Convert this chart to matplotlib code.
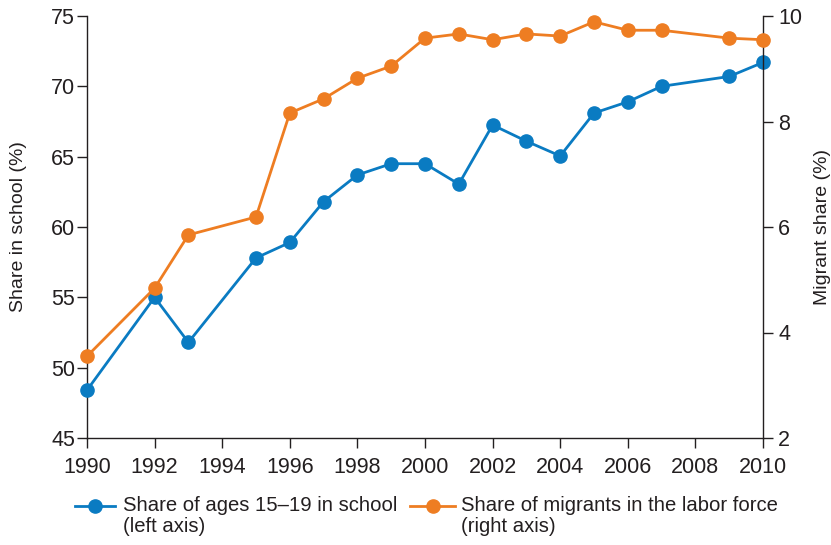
import matplotlib
matplotlib.use("Agg")
import matplotlib.pyplot as plt
from matplotlib.lines import Line2D

plt.rcParams['font.family'] = ['Liberation Sans', 'DejaVu Sans']

years_school = [1990, 1992, 1993, 1995, 1996, 1997, 1998, 1999, 2000, 2001,
                2002, 2003, 2004, 2005, 2006, 2007, 2009, 2010]
share_school = [48.4, 55.0, 51.8, 57.8, 58.9, 61.8, 63.7, 64.5, 64.5, 63.05,
                67.25, 66.1, 65.05, 68.1, 68.9, 70.0, 70.7, 71.7]
years_migr = [1990, 1992, 1993, 1995, 1996, 1997, 1998, 1999, 2000, 2001,
              2002, 2003, 2004, 2005, 2006, 2007, 2009, 2010]
share_migr = [3.55, 4.84, 5.85, 6.19, 8.16, 8.43, 8.82, 9.05, 9.58, 9.66,
              9.55, 9.66, 9.62, 9.89, 9.73, 9.73, 9.58, 9.55]

x_ticks = list(range(1990, 2011, 2))
left_ticks = [45, 50, 55, 60, 65, 70, 75]
right_ticks = [2, 4, 6, 8, 10]

blue = '#0a7bc2'
orange = '#ee7d22'
txt = '#231f20'
W, H = 831, 545
AX0, AX1 = 87, 763

fig = plt.figure(figsize=(W/100, H/100), dpi=100)
ax = fig.add_axes([AX0/W, 1-438/H, (AX1-AX0)/W, (438-16)/H])
ax2 = ax.twinx()

ax.plot(years_school, share_school, color=blue, lw=2.0, marker='o', ms=9.5,
        clip_on=False, zorder=3)
ax2.plot(years_migr, share_migr, color=orange, lw=2.0, marker='o', ms=9.5,
         clip_on=False, zorder=3)

ax.set_xlim(1990, 2010)
ax.set_ylim(45, 75)
ax2.set_ylim(2, 10)
ax.set_xticks(x_ticks)
ax.set_yticks(left_ticks)
ax2.set_yticks(right_ticks)

for a in (ax, ax2):
    a.spines['top'].set_visible(False)
    for s in a.spines.values():
        s.set_color(txt)
        s.set_linewidth(1.0)
    a.tick_params(colors=txt, labelsize=15.5, length=7, width=1.0, direction='out')
ax.spines['right'].set_visible(False)
ax2.spines['left'].set_visible(False)
ax2.spines['bottom'].set_visible(False)
ax.tick_params(axis='x', pad=7)
ax.tick_params(axis='y', pad=1.5)
ax2.tick_params(axis='y', pad=4)

ax.set_ylabel('Share in school (%)', fontsize=14, color=txt)
ax.yaxis.set_label_coords((27-AX0)/(AX1-AX0), 0.5)
ax2.set_ylabel('Migrant share (%)', fontsize=14, color=txt, rotation=90)
ax2.yaxis.set_label_coords((814-AX0)/(AX1-AX0), 0.5)

# manual legend (handle aligned with first text line)
def legend_item(x0, x1, y, color, label, tx):
    fy = 1 - y/H
    fig.add_artist(Line2D([x0/W, x1/W], [fy, fy], color=color, lw=2.0,
                          transform=fig.transFigure))
    fig.add_artist(Line2D([(x0+x1)/2/W], [fy], color=color, marker='o', ms=9.5,
                          transform=fig.transFigure))
    fig.text(tx/W, fy + 10/H, label, fontsize=14.6, color=txt, va='top',
             ha='left', linespacing=1.1, transform=fig.transFigure)

legend_item(75, 115, 506, blue, 'Share of ages 15\u201319 in school\n(left axis)', 123)
legend_item(410, 455, 506, orange, 'Share of migrants in the labor force\n(right axis)', 461)

fig.savefig('out.png', dpi=100)
